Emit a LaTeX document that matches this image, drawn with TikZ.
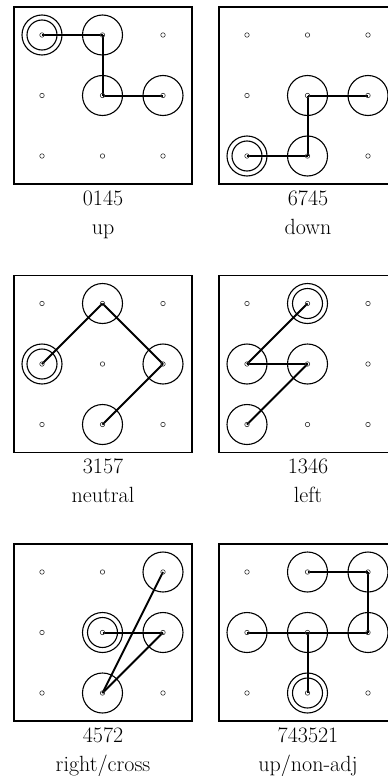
\documentclass[tikz,border=0pt]{standalone}
\tikzset{
 boxst/.style={draw, line width=1.2pt, minimum width=178pt, minimum height=177pt, inner sep=0pt},
 dotst/.style={draw=black!80, circle, line width=0.6pt, minimum size=4.5pt, inner sep=0pt},
 visit/.style={draw, circle, line width=1.1pt, minimum size=40pt, inner sep=0pt},
 startin/.style={draw, circle, line width=1.1pt, minimum size=30pt, inner sep=0pt},
 link/.style={line width=2pt},
 lbl/.style={font=\fontsize{22}{26}\selectfont, anchor=base, inner sep=0pt}
}
\newcommand\mypanel[8]{%
 \node[boxst] (#1box) at (#2+89,#3+88.5) {};
 \foreach \i in {0,...,8}{
   \pgfmathsetmacro\cc{mod(\i,3)}
   \pgfmathsetmacro\rr{floor(\i/3)}
   \coordinate (#1n\i) at (#2+28+60.5*\cc, #3+28+60.5*\rr);
 }
 \foreach \v in {#5}{ \node[visit] (#1v\v) at (#1n\v) {}; }
 \node[visit] (#1s) at (#1n#4) {};
 \node[startin] (#1si) at (#1n#4) {};
 \foreach \a/\b in {#6}{ \draw[link] (#1n\a) -- (#1n\b); }
 \foreach \i in {0,...,8}{ \node[dotst] (#1d\i) at (#1n\i) {}; }
 \node[lbl] (#1num) at (#2+89,#3+198) {#7};
 \node[lbl] (#1txt) at (#2+89,#3+227) {#8};
}
\begin{document}
\begin{tikzpicture}[x=1pt,y=-1pt]
\useasboundingbox (0,0) rectangle (388,776);
\clip (0,0) rectangle (388,776);
\mypanel{A}{14}{7}{0}{1,4,5}{0/1,1/4,4/5}{0145}{up}
\mypanel{B}{219}{7}{6}{7,4,5}{6/7,7/4,4/5}{6745}{down}
\mypanel{C}{14}{275.5}{3}{1,5,7}{3/1,1/5,5/7}{3157}{neutral}
\mypanel{D}{219}{275.5}{1}{3,4,6}{1/3,3/4,4/6}{1346}{left}
\mypanel{E}{14}{544}{4}{5,7,2}{4/5,5/7,7/2}{4572}{right/cross}
\mypanel{F}{219}{544}{7}{4,3,5,2,1}{7/4,4/3,3/5,5/2,2/1}{743521}{up/non-adj}
\end{tikzpicture}
\end{document}
